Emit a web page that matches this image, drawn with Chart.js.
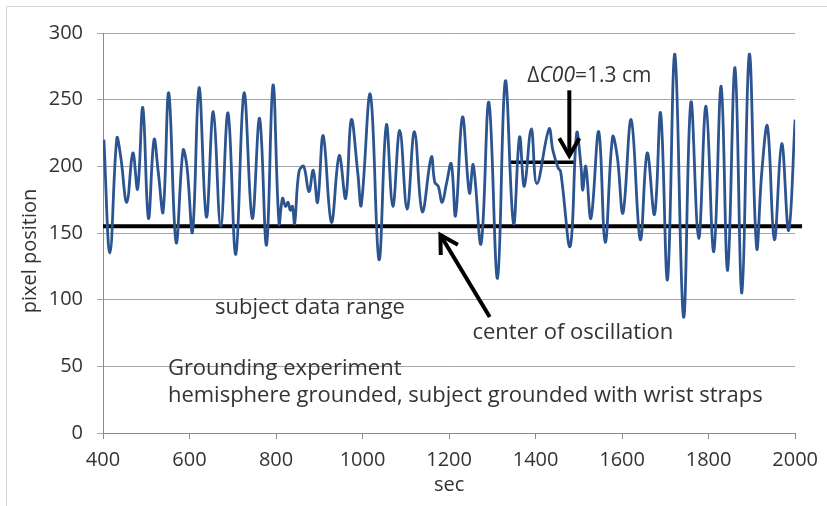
<!DOCTYPE html>
<html>
<head>
<meta charset="utf-8">
<script src="https://cdn.jsdelivr.net/npm/chart.js@4/dist/chart.umd.min.js"></script>
<style>
  html, body { margin: 0; padding: 0; background: #fff; }
  #wrap { position: relative; width: 827px; height: 506px; }
</style>
</head>
<body>
<div id="wrap"><canvas id="chart" width="827" height="506"></canvas></div>
<script>
// ── Data ──────────────────────────────────────────────────
var timeSec = [402, 416, 432, 441, 455, 469, 480, 492, 505, 518, 528, 539, 552, 569, 585, 594, 607, 622, 639, 655,
    672, 689, 707, 726, 745, 762, 778, 793, 807, 815, 822, 828, 833, 838, 843, 853, 864, 876, 886, 896,
    909, 928, 946, 961, 974, 989, 997, 1018, 1038, 1055, 1070, 1086, 1103, 1120, 1138, 1159, 1167, 1175, 1184, 1194,
    1205, 1215, 1231, 1247, 1256, 1274, 1292, 1312, 1330, 1349, 1363, 1374, 1390, 1403, 1431, 1440, 1452, 1458, 1480, 1495,
    1505, 1509, 1516, 1528, 1546, 1561, 1578, 1589, 1602, 1621, 1642, 1658, 1675, 1689, 1705, 1722, 1742, 1759, 1777, 1794,
    1812, 1829, 1844, 1861, 1877, 1894, 1911, 1923, 1936, 1952, 1969, 1985, 2000];
var pixelPos = [220, 135, 221, 207, 173, 210, 183, 244, 161, 220, 195, 166, 255, 143, 212, 200, 151, 259, 162, 241,
    155, 240, 134, 255, 161, 236, 141, 261, 157, 176, 170, 173, 167, 170, 157, 196, 200, 181, 197, 173,
    223, 158, 208, 176, 235, 195, 171, 254, 130, 231, 170, 227, 168, 226, 166, 207, 188, 185, 173, 187,
    202, 163, 237, 180, 201, 142, 248, 116, 264, 157, 222, 185, 228, 187, 228, 212, 199, 196, 140, 225,
    200, 182, 200, 161, 226, 143, 222, 207, 165, 235, 145, 210, 164, 240, 115, 284, 87, 248, 146, 245,
    136, 260, 122, 274, 105, 284, 139, 196, 230, 145, 217, 152, 235];

var xTicks = [400, 600, 800, 1000, 1200, 1400, 1600, 1800, 2000];
var yTicks = [0, 50, 100, 150, 200, 250, 300];

// center of oscillation line + ΔC00 offset line
var centerLineX = [400, 2016];
var centerLineY = [155, 155];
var offsetLineX = [1340, 1490];
var offsetLineY = [203, 203];

// arrows: [tailX, tailY, tipX, tipY]
var arrowDelta  = [1478, 257, 1478, 208];
var arrowCenter = [1294, 87, 1180, 148.5];

// text notes: [text, x, y]
var notes = [
    ['subject data range', 659, 94],
    ['center of oscillation', 1254, 75],
    ['Grounding experiment', 550, 48],
    ['hemisphere grounded, subject grounded with wrist straps', 550, 28]
];
var deltaNote = [1381, 268];
var yTitle = 'pixel position';

function zip(xs, ys) {
    return xs.map(function (x, i) { return { x: x, y: ys[i] }; });
}

var fontFamily = '"Open Sans", "Liberation Sans", sans-serif';
var textColor = '#333333';

// ── Annotation plugin (arrows + text) ─────────────────────
var notesPlugin = {
    id: 'notes',
    afterDatasetsDraw: function (chart) {
        var ctx = chart.ctx, xs = chart.scales.x, ys = chart.scales.y;

        function arrow(a) {
            var x1 = xs.getPixelForValue(a[0]), y1 = ys.getPixelForValue(a[1]);
            var x2 = xs.getPixelForValue(a[2]), y2 = ys.getPixelForValue(a[3]);
            var ang = Math.atan2(y1 - y2, x1 - x2);
            var len = 20, spread = Math.PI / 6;
            ctx.save();
            ctx.strokeStyle = '#000';
            ctx.lineWidth = 4;
            ctx.lineCap = 'butt';
            ctx.lineJoin = 'miter';
            ctx.beginPath();
            ctx.moveTo(x1, y1);
            ctx.lineTo(x2, y2);
            ctx.stroke();
            ctx.beginPath();
            ctx.moveTo(x2 + len * Math.cos(ang - spread), y2 + len * Math.sin(ang - spread));
            ctx.lineTo(x2, y2);
            ctx.lineTo(x2 + len * Math.cos(ang + spread), y2 + len * Math.sin(ang + spread));
            ctx.stroke();
            ctx.restore();
        }
        arrow(arrowDelta);
        arrow(arrowCenter);

        ctx.save();
        ctx.fillStyle = textColor;
        ctx.textBaseline = 'middle';
        ctx.textAlign = 'left';
        ctx.font = '22px ' + fontFamily;
        notes.forEach(function (n) {
            ctx.fillText(n[0], xs.getPixelForValue(n[1]), ys.getPixelForValue(n[2]));
        });

        // ΔC00=1.3 cm with italic C00
        var px = xs.getPixelForValue(deltaNote[0]), py = ys.getPixelForValue(deltaNote[1]);
        var parts = [['\u0394', ''], ['C00', 'italic '], ['=1.3 cm', '']];
        parts.forEach(function (p) {
            ctx.font = p[1] + '21px ' + fontFamily;
            ctx.fillText(p[0], px, py);
            px += ctx.measureText(p[0]).width;
        });

        // y axis title, sits a bit below the middle of the plot
        ctx.translate(30, chart.chartArea.top + chart.chartArea.height * 0.545);
        ctx.rotate(-Math.PI / 2);
        ctx.textAlign = 'center';
        ctx.font = '20px ' + fontFamily;
        ctx.fillText(yTitle, 0, 0);
        ctx.restore();
    }
};

var borderPlugin = {
    id: 'frame',
    afterDraw: function (chart) {
        var ctx = chart.ctx;
        ctx.save();
        ctx.strokeStyle = '#d4d4d4';
        ctx.lineWidth = 1;
        ctx.beginPath();
        ctx.moveTo(6.5, 510);
        ctx.lineTo(6.5, 6.5);
        ctx.lineTo(830, 6.5);
        ctx.stroke();
        ctx.restore();
    }
};

new Chart(document.getElementById('chart'), {
    type: 'scatter',
    data: {
        datasets: [
            {
                label: 'pixel position',
                data: zip(timeSec, pixelPos),
                showLine: true,
                borderColor: '#2c5490',
                borderWidth: 2.8,
                pointRadius: 0,
                tension: 0.4,
                fill: false
            },
            {
                label: 'center',
                data: zip(centerLineX, centerLineY),
                showLine: true,
                borderColor: '#000',
                borderWidth: 4,
                pointRadius: 0,
                clip: false
            },
            {
                label: 'offset',
                data: zip(offsetLineX, offsetLineY),
                showLine: true,
                borderColor: '#000',
                borderWidth: 3.5,
                pointRadius: 0
            }
        ]
    },
    options: {
        responsive: false,
        animation: false,
        layout: { padding: { left: 0, right: 31, top: 33, bottom: 0 } },
        plugins: {
            legend: { display: false },
            tooltip: { enabled: false }
        },
        scales: {
            x: {
                type: 'linear',
                min: 400, max: 2000,
                afterBuildTicks: function (s) { s.ticks = xTicks.map(function (v) { return { value: v }; }); },
                afterFit: function (s) { s.height = 73; },
                border: { display: true, color: '#8c8c8c', width: 1 },
                grid: { drawOnChartArea: false, drawTicks: true, tickLength: 6, color: '#8c8c8c' },
                ticks: {
                    font: { family: fontFamily, size: 20 }, color: textColor, padding: 9, maxRotation: 0,
                    callback: function (v) { return String(v); }
                },
                title: {
                    display: true, text: 'sec', color: textColor,
                    font: { family: fontFamily, size: 20 }, padding: { top: 0, bottom: 9 }
                }
            },
            y: {
                min: 0, max: 300,
                afterBuildTicks: function (s) { s.ticks = yTicks.map(function (v) { return { value: v }; }); },
                afterFit: function (s) { s.width = 103; },
                border: { display: true, color: '#8c8c8c', width: 1 },
                grid: { color: '#a6a6a6', tickLength: 6, lineWidth: 1 },
                ticks: {
                    font: { family: fontFamily, size: 20 }, color: textColor, padding: 14,
                    callback: function (v) { return String(v); }
                },
                title: { display: false }
            }
        }
    },
    plugins: [notesPlugin, borderPlugin]
});
</script>
</body>
</html>
